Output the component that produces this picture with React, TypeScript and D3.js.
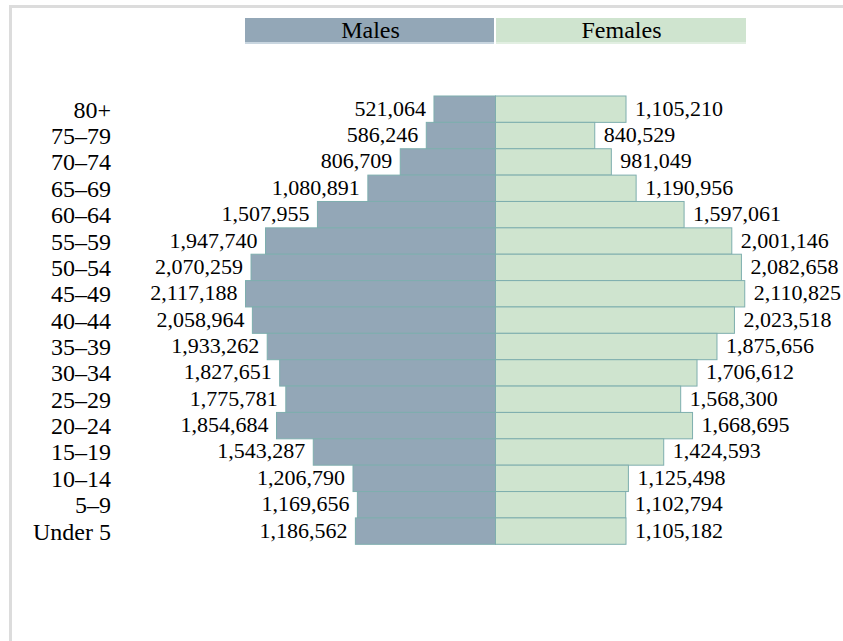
import React from "react";
import * as d3 from "d3";

const ageGroups = ["80+", "75–79", "70–74", "65–69", "60–64", "55–59", "50–54", "45–49", "40–44", "35–39", "30–34", "25–29", "20–24", "15–19", "10–14", "5–9", "Under 5"];
const males = [521064, 586246, 806709, 1080891, 1507955, 1947740, 2070259, 2117188, 2058964, 1933262, 1827651, 1775781, 1854684, 1543287, 1206790, 1169656, 1186562];
const females = [1105210, 840529, 981049, 1190956, 1597061, 2001146, 2082658, 2110825, 2023518, 1875656, 1706612, 1568300, 1668695, 1424593, 1125498, 1102794, 1105182];
const seriesNames = ["Males", "Females"];

const W = 843;
const H = 641;
const center = 495.5;
const halfWidth = 250;
const top = 96;
const rowH = 26.37;

const maleFill = "#93a7b7";
const femaleFill = "#cfe4cf";
const barStroke = "#7eaeae";
const font = "'Liberation Serif', 'Times New Roman', serif";
const fmt = d3.format(",");

export default function App() {
  const maxV = d3.max([...males, ...females]) as number;
  const x = d3.scaleLinear().domain([0, maxV]).range([0, halfWidth]);
  const y = d3
    .scaleBand<string>()
    .domain(ageGroups)
    .range([top, top + rowH * ageGroups.length])
    .padding(0);

  return (
    <div style={{ position: "absolute", left: 0, top: 0 }}>
      <svg width={W} height={H} style={{ display: "block" }}>
        <rect x={0} y={0} width={W} height={H} fill="#fff" />
        {/* frame */}
        <line x1={10.5} y1={5} x2={10.5} y2={H} stroke="#dcdcdc" strokeWidth={3} />
        <line x1={9} y1={6.5} x2={W} y2={6.5} stroke="#dcdcdc" strokeWidth={3} />

        {/* legend */}
        <rect x={center - 250.5} y={18} width={249} height={25} fill={maleFill} />
        <rect x={center - 250.5} y={42} width={249} height={2} fill="#c9d6e0" />
        <text x={center - 125} y={37.5} textAnchor="middle" fontFamily={font} fontSize={24} fill="#000">
          {seriesNames[0]}
        </text>
        <rect x={center + 0.5} y={18} width={250} height={25} fill={femaleFill} />
        <rect x={center + 0.5} y={42} width={250} height={2} fill="#e2efe2" />
        <text x={center + 126} y={37.5} textAnchor="middle" fontFamily={font} fontSize={24} fill="#000">
          {seriesNames[1]}
        </text>

        {ageGroups.map((g, i) => {
          const y0 = y(g) as number;
          const bw = y.bandwidth();
          const mw = x(males[i]);
          const fw = x(females[i]);
          return (
            <g key={g}>
              <rect x={center - mw} y={y0} width={mw} height={bw} fill={maleFill} stroke={barStroke} strokeWidth={1} />
              <rect x={center} y={y0} width={fw} height={bw} fill={femaleFill} stroke={barStroke} strokeWidth={1} />
              <text x={111} y={y0 + bw / 2 + 8.5} textAnchor="end" fontFamily={font} fontSize={24} fill="#000">
                {g}
              </text>
              <text x={center - mw - 8} y={y0 + bw / 2 + 6.5} textAnchor="end" fontFamily={font} fontSize={22} fill="#000">
                {fmt(males[i])}
              </text>
              <text x={center + fw + 9} y={y0 + bw / 2 + 6.5} textAnchor="start" fontFamily={font} fontSize={22} fill="#000">
                {fmt(females[i])}
              </text>
            </g>
          );
        })}
      </svg>
    </div>
  );
}
